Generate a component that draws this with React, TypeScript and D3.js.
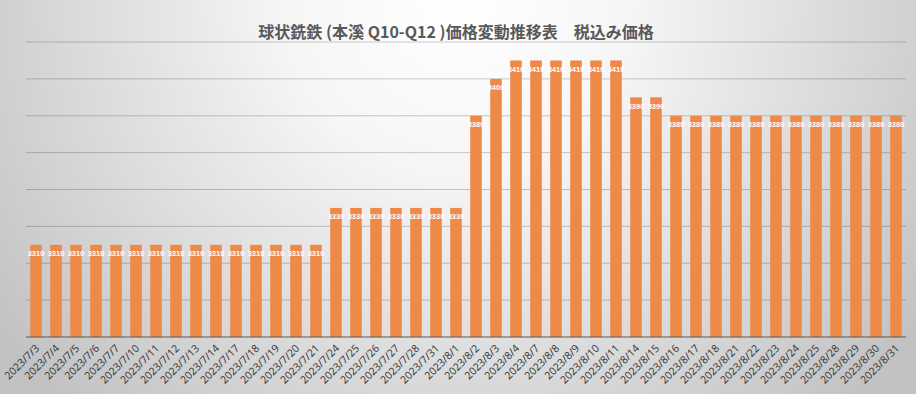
import { useEffect, useRef } from 'react';
import * as d3 from 'd3';

// 球状銑鉄 price chart
const dates = [
  '2023/7/3', '2023/7/4', '2023/7/5', '2023/7/6', '2023/7/7',
  '2023/7/10', '2023/7/11', '2023/7/12', '2023/7/13', '2023/7/14',
  '2023/7/17', '2023/7/18', '2023/7/19', '2023/7/20', '2023/7/21',
  '2023/7/24', '2023/7/25', '2023/7/26', '2023/7/27', '2023/7/28',
  '2023/7/31', '2023/8/1', '2023/8/2', '2023/8/3', '2023/8/4',
  '2023/8/7', '2023/8/8', '2023/8/9', '2023/8/10', '2023/8/11',
  '2023/8/14', '2023/8/15', '2023/8/16', '2023/8/17', '2023/8/18',
  '2023/8/21', '2023/8/22', '2023/8/23', '2023/8/24', '2023/8/25',
  '2023/8/28', '2023/8/29', '2023/8/30', '2023/8/31',
];

const prices = [
  3310, 3310, 3310, 3310, 3310,
  3310, 3310, 3310, 3310, 3310,
  3310, 3310, 3310, 3310, 3310,
  3330, 3330, 3330, 3330, 3330,
  3330, 3330, 3380, 3400, 3410,
  3410, 3410, 3410, 3410, 3410,
  3390, 3390, 3380, 3380, 3380,
  3380, 3380, 3380, 3380, 3380,
  3380, 3380, 3380, 3380,
];

const yDomain = [3260, 3420];
const yTicks = [3260, 3280, 3300, 3320, 3340, 3360, 3380, 3400, 3420];

const title = '球状銑鉄 (本溪 Q10-Q12 )価格変動推移表　税込み価格';

const W = 916;
const H = 394;

export default function App() {
  const svgRef = useRef<SVGSVGElement | null>(null);

  useEffect(() => {
    const svg = d3.select(svgRef.current);
    svg.selectAll('*').remove();

    // background: radial gradient, light at the top centre
    const defs = svg.append('defs');
    const grad = defs.append('radialGradient')
      .attr('id', 'bg')
      .attr('cx', '50%').attr('cy', '0%')
      .attr('r', '62%')
      .attr('gradientTransform', 'translate(0.5,0) scale(1,2.3) translate(-0.5,0)');
    grad.append('stop').attr('offset', '0%').attr('stop-color', '#ffffff');
    grad.append('stop').attr('offset', '30%').attr('stop-color', '#f6f6f6');
    grad.append('stop').attr('offset', '100%').attr('stop-color', '#c2c2c2');

    svg.append('rect')
      .attr('width', W).attr('height', H)
      .attr('fill', 'url(#bg)');

    const x = d3.scaleBand<string>()
      .domain(dates)
      .range([26, 906])
      .paddingInner(0.42)
      .paddingOuter(0.21);

    const y = d3.scaleLinear()
      .domain(yDomain)
      .range([337, 42]);

    // gridlines
    svg.append('g')
      .selectAll('line')
      .data(yTicks.slice(1))
      .join('line')
      .attr('x1', 26).attr('x2', 906)
      .attr('y1', d => y(d)).attr('y2', d => y(d))
      .attr('stroke', '#000')
      .attr('stroke-opacity', 0.2)
      .attr('stroke-width', 1);

    // bars
    svg.append('g')
      .selectAll('rect')
      .data(prices)
      .join('rect')
      .attr('x', (_, i) => x(dates[i]) as number)
      .attr('y', d => y(d))
      .attr('width', x.bandwidth())
      .attr('height', d => y(yDomain[0]) - y(d))
      .attr('fill', '#ee8a48');

    // baseline
    svg.append('line')
      .attr('x1', 26).attr('x2', 906)
      .attr('y1', y(yDomain[0])).attr('y2', y(yDomain[0]))
      .attr('stroke', '#595959')
      .attr('stroke-width', 1);

    // value labels inside the top of each bar
    svg.append('g')
      .selectAll('text')
      .data(prices)
      .join('text')
      .attr('x', (_, i) => (x(dates[i]) as number) + x.bandwidth() / 2)
      .attr('y', d => y(d) + 11.5)
      .attr('text-anchor', 'middle')
      .attr('fill', '#ffffff')
      .style('font-family', "'Liberation Sans', Arial, sans-serif")
      .style('font-size', '7.5px')
      .style('font-weight', '700')
      .text(d => d);

    // x labels, rotated
    svg.append('g')
      .selectAll('text')
      .data(dates)
      .join('text')
      .attr('transform', d => `translate(${(x(d) as number) + x.bandwidth() / 2 + 4},${349}) rotate(-45)`)
      .attr('text-anchor', 'end')
      .attr('fill', '#333333')
      .style('font-family', "'Open Sans', 'Liberation Sans', sans-serif")
      .style('font-size', '10.5px')
      .text(d => d);

    // title
    svg.append('text')
      .attr('x', 456)
      .attr('y', 38)
      .attr('text-anchor', 'middle')
      .attr('fill', '#595959')
      .style('font-family', "'Noto Sans CJK JP', sans-serif")
      .style('font-size', '16px')
      .style('font-weight', '700')
      .text(title);
  }, []);

  return (
    <svg
      ref={svgRef}
      width={W}
      height={H}
      style={{ position: 'absolute', left: 0, top: 0, display: 'block' }}
    />
  );
}
